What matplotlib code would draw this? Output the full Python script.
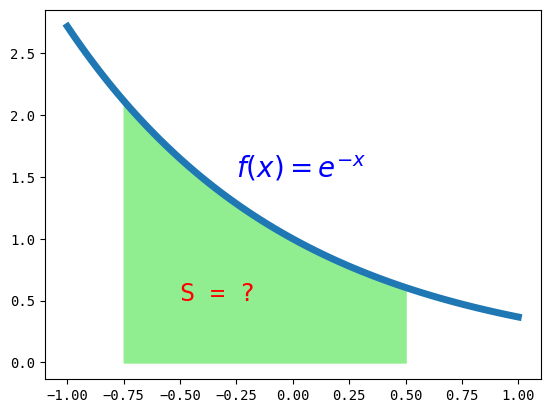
import numpy as np
import matplotlib.pyplot as plt

plt.rcParams['font.family'] = 'monospace'

x_range = [-1.0, 1.0]
fill_range = [-0.75, 0.5]
n_points = 100

x = np.linspace(x_range[0], x_range[1], n_points)
y = np.exp(-x)

xf = np.linspace(fill_range[0], fill_range[1], n_points)
yf = np.exp(-xf)

fig, ax = plt.subplots()
ax.fill_between(xf, yf, color='lightgreen')
ax.plot(x, y, linewidth=5)
ax.text(-0.25, 1.5, r'$f(x)=e^{-x}$', fontsize=20, color='blue')
ax.text(-0.5, 0.5, 'S = ?', fontsize=18, color='red')

plt.savefig('out.png', dpi=100, bbox_inches='tight')
